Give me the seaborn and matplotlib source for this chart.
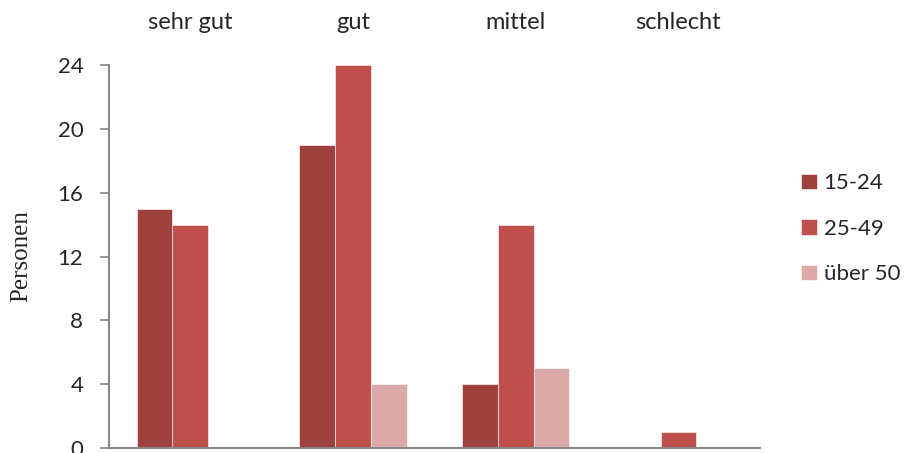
import matplotlib
matplotlib.use("Agg")
import matplotlib.pyplot as plt
import pandas as pd
import seaborn as sns

categories = ["sehr gut", "gut", "mittel", "schlecht"]
groups = ["15-24", "25-49", "über 50"]
values_15_24 = [15, 19, 4, 0]
values_25_49 = [14, 24, 14, 1]
values_50 = [0, 4, 5, 0]
colors = ["#9e413e", "#c0504d", "#dca9a9"]

rows = []
for grp, vals in zip(groups, [values_15_24, values_25_49, values_50]):
    for cat, v in zip(categories, vals):
        rows.append({"Bewertung": cat, "Alter": grp, "Personen": v})
df = pd.DataFrame(rows)

sns.set_style("white")
plt.rcParams["font.family"] = ["Lato", "DejaVu Sans"]

fig = plt.figure(figsize=(9.1, 4.53), dpi=100)
ax = fig.add_axes([0.1198, 0.011, 0.7152, 0.8455])

sns.barplot(data=df, x="Bewertung", y="Personen", hue="Alter", order=categories,
            hue_order=groups, palette=colors, width=0.66, saturation=1,
            edgecolor="white", linewidth=0.4, ax=ax)

ax.set_ylim(0, 24)
ax.set_yticks(range(0, 25, 4))
ax.set_xlim(-0.5, 3.5)
ax.xaxis.tick_top()
ax.tick_params(axis="x", length=0, pad=23, labelsize=17)
ax.tick_params(axis="y", length=6.5, width=1.2, color="#868686", direction="out",
               labelsize=16, pad=12, left=True)
ax.set_xlabel("")
ax.set_ylabel("Personen", family="Liberation Serif", fontsize=18)
ax.yaxis.set_label_coords(-0.118, 0.5)

for side in ["top", "right"]:
    ax.spines[side].set_visible(False)
for side in ["left", "bottom"]:
    ax.spines[side].set_color("#868686")
    ax.spines[side].set_linewidth(1.5)

leg = ax.legend(loc="center left", bbox_to_anchor=(1.033, 0.572), frameon=False,
                fontsize=16, labelspacing=1.15, handlelength=0.7, handleheight=0.7,
                handletextpad=0.3)

fig.savefig("out.png", dpi=100)
